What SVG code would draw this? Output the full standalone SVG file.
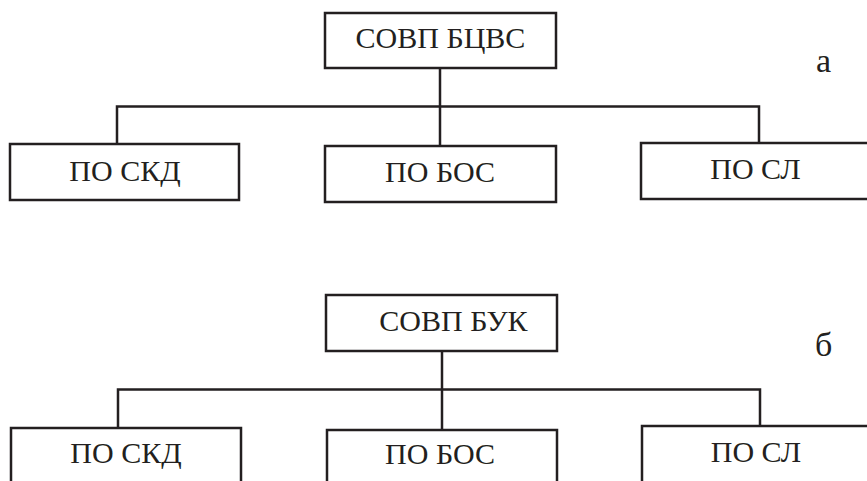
<svg xmlns="http://www.w3.org/2000/svg" width="867" height="481" viewBox="0 0 867 481">
  <style>
    .box { fill: #ffffff; stroke: #231f20; stroke-width: 2.5; }
    .wire { fill: none; stroke: #231f20; stroke-width: 2.5; }
    .lbl { font-family: "Liberation Serif", "Times New Roman", serif; font-size: 30px; fill: #231f20; text-anchor: middle; }
    .tag { font-family: "Liberation Serif", "Times New Roman", serif; font-size: 34px; fill: #231f20; }
  </style>
  <rect width="867" height="481" fill="#ffffff"/>

  <!-- connectors -->
  <g id="connectors">
    <!-- upper tree -->
    <path class="wire" d="M440 68 V146"/>
    <path class="wire" d="M117 144 V106.5 H759 V143"/>
    <!-- lower tree -->
    <path class="wire" d="M442 351 V430"/>
    <path class="wire" d="M118 428 V389.5 H760 V426"/>
  </g>

  <!-- upper tree nodes -->
  <g id="root-a">
    <rect class="box" x="325" y="13" width="231" height="55"/>
    <text class="lbl" x="440.5" y="48">СОВП БЦВС</text>
  </g>
  <g id="skd-a">
    <rect class="box" x="10" y="144" width="229" height="56"/>
    <text class="lbl" x="125" y="181">ПО СКД</text>
  </g>
  <g id="bos-a">
    <rect class="box" x="325" y="146" width="231" height="56"/>
    <text class="lbl" x="440" y="182">ПО БОС</text>
  </g>
  <g id="sl-a">
    <rect class="box" x="641" y="143" width="230" height="56"/>
    <text class="lbl" x="755.5" y="179">ПО СЛ</text>
  </g>
  <text class="tag" x="816" y="72">а</text>

  <!-- lower tree nodes -->
  <g id="root-b">
    <rect class="box" x="326" y="295" width="231" height="56"/>
    <text class="lbl" x="453.5" y="331">СОВП БУК</text>
  </g>
  <g id="skd-b">
    <rect class="box" x="11" y="428" width="230" height="70"/>
    <text class="lbl" x="126" y="463">ПО СКД</text>
  </g>
  <g id="bos-b">
    <rect class="box" x="327" y="430" width="230" height="70"/>
    <text class="lbl" x="440" y="464">ПО БОС</text>
  </g>
  <g id="sl-b">
    <rect class="box" x="642" y="426" width="230" height="70"/>
    <text class="lbl" x="756" y="462">ПО СЛ</text>
  </g>
  <text class="tag" x="815" y="356">б</text>
</svg>
